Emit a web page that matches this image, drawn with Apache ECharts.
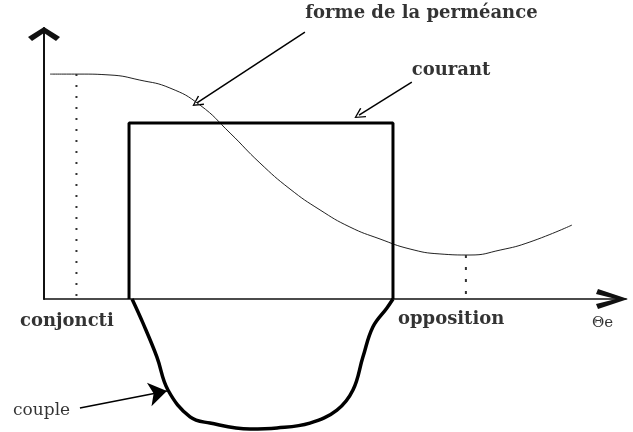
<!DOCTYPE html>
<html>
<head>
<meta charset="utf-8">
<script src="https://cdn.jsdelivr.net/npm/echarts@6/dist/echarts.min.js"></script>
<style>
  html, body { margin: 0; padding: 0; background: #fff; }
  #chart { width: 633px; height: 432px; }
</style>
</head>
<body>
<div id="chart"></div>
<script>
// angle électrique θe (deg) : conjonction = 0, opposition = 180
const permTheta = [-12.2, 1.6, 15.5, 29.3, 43.2, 57.1, 71.0, 84.8, 98.7, 112.6, 126.4, 140.3, 154.2, 168.0, 181.9, 195.8, 209.6, 229.0]
const permValue = [1.278, 1.278, 1.273, 1.244, 1.199, 1.102, 0.943, 0.773, 0.625, 0.506, 0.409, 0.341, 0.284, 0.256, 0.250, 0.278, 0.324, 0.420]

const currentTheta = [24.3, 24.3, 146.3, 146.3]
const currentValue = [0, 1, 1, 0]

const coupleTheta = [25.7, 30.7, 37.2, 42.3, 52.5, 61.7, 80.2, 92.7, 107.9, 120.4, 127.8, 132.4, 137.0, 143.5, 146.3]
const coupleValue = [0, -0.136, -0.330, -0.517, -0.670, -0.705, -0.739, -0.733, -0.705, -0.631, -0.517, -0.330, -0.159, -0.051, 0]

const conjTheta = 0
const oppTheta = 180

// annotations
const labelText = ['forme de la perméance', 'courant', 'conjoncti', 'opposition', 'Θe', 'couple']
const labelTheta = [105.8, 155.0, -26.1, 148.6, 238.3, -29.3]
const labelValue = [1.625, 1.301, -0.125, -0.114, -0.136, -0.636]
const labelBold = [true, true, true, true, false, false]

const arrowFrom = [[105.6, 1.517], [155.0, 1.233], [1.6, -0.619]]
const arrowTo = [[55.7, 1.114], [130.6, 1.045], [41.8, -0.523]]

const zip = (xs, ys) => xs.map((x, i) => [x, ys[i]])

const chevronUp = 'path://M10,0 L20,30 L15,32 L10,12 L5,32 L0,30 Z'
const chevronFlat = 'path://M16,0 L32,10 L28,14 L16,6 L4,14 L0,10 Z'
const chevronThin = 'path://M10,0 L20,12 L18,13 L10,3 L2,13 L0,12 Z'

let myChart = echarts.init(document.getElementById('chart'))
let option = {
  backgroundColor: '#fff',
  animation: false,
  grid: { left: 44, right: 7, top: 28, bottom: 133 },
  xAxis: {
    type: 'value',
    min: -15,
    max: 254,
    splitLine: { show: false },
    axisTick: { show: false },
    axisLabel: { show: false },
    axisLine: {
      onZero: false,
      symbol: ['none', chevronUp],
      symbolSize: [20, 32],
      symbolOffset: [0, -14],
      lineStyle: { color: '#111', width: 1.5 }
    }
  },
  yAxis: {
    type: 'value',
    min: 0,
    max: 1.54,
    splitLine: { show: false },
    axisTick: { show: false },
    axisLabel: { show: false },
    axisLine: {
      onZero: false,
      symbol: ['none', chevronFlat],
      symbolSize: [32, 14],
      symbolOffset: [0, -6],
      lineStyle: { color: '#111', width: 2 }
    }
  },
  series: [
    {
      name: 'perméance',
      type: 'line',
      smooth: true,
      showSymbol: false,
      lineStyle: { color: '#222', width: 1 },
      data: zip(permTheta, permValue)
    },
    {
      name: 'courant',
      type: 'line',
      showSymbol: false,
      lineStyle: { color: '#000', width: 3 },
      data: zip(currentTheta, currentValue)
    },
    {
      name: 'couple',
      type: 'line',
      smooth: 0.4,
      clip: false,
      showSymbol: false,
      lineStyle: { color: '#000', width: 3.5 },
      data: zip(coupleTheta, coupleValue)
    },
    {
      name: 'conjonction',
      type: 'line',
      showSymbol: false,
      lineStyle: { color: '#333', width: 2, type: [2, 9] },
      data: [[conjTheta, permValue[0]], [conjTheta, 0]]
    },
    {
      name: 'opposition',
      type: 'line',
      showSymbol: false,
      lineStyle: { color: '#333', width: 2, type: [3, 9] },
      data: [[oppTheta, permValue[14]], [oppTheta, 0]]
    },
    {
      name: 'flèches',
      type: 'lines',
      coordinateSystem: 'cartesian2d',
      clip: false,
      lineStyle: { color: '#000', width: 1.5, opacity: 1 },
      data: arrowFrom.map((p, i) => ({
        coords: [p, arrowTo[i]],
        symbol: ['none', i === 2 ? 'arrow' : chevronThin],
        symbolSize: i === 2 ? [12, 18] : [16, 11]
      }))
    },
    {
      name: 'textes',
      type: 'scatter',
      clip: false,
      symbolSize: 0,
      data: labelText.map((t, i) => ({
        value: [labelTheta[i], labelValue[i]],
        label: {
          show: true,
          position: 'right',
          distance: 0,
          formatter: t,
          color: '#000',
          fontFamily: 'DejaVu Serif',
          fontWeight: labelBold[i] ? 'bold' : 'normal',
          fontSize: labelBold[i] ? 18 : (i === 4 ? 15 : 17)
        }
      }))
    }
  ]
}
option && myChart.setOption(option)
</script>
</body>
</html>
